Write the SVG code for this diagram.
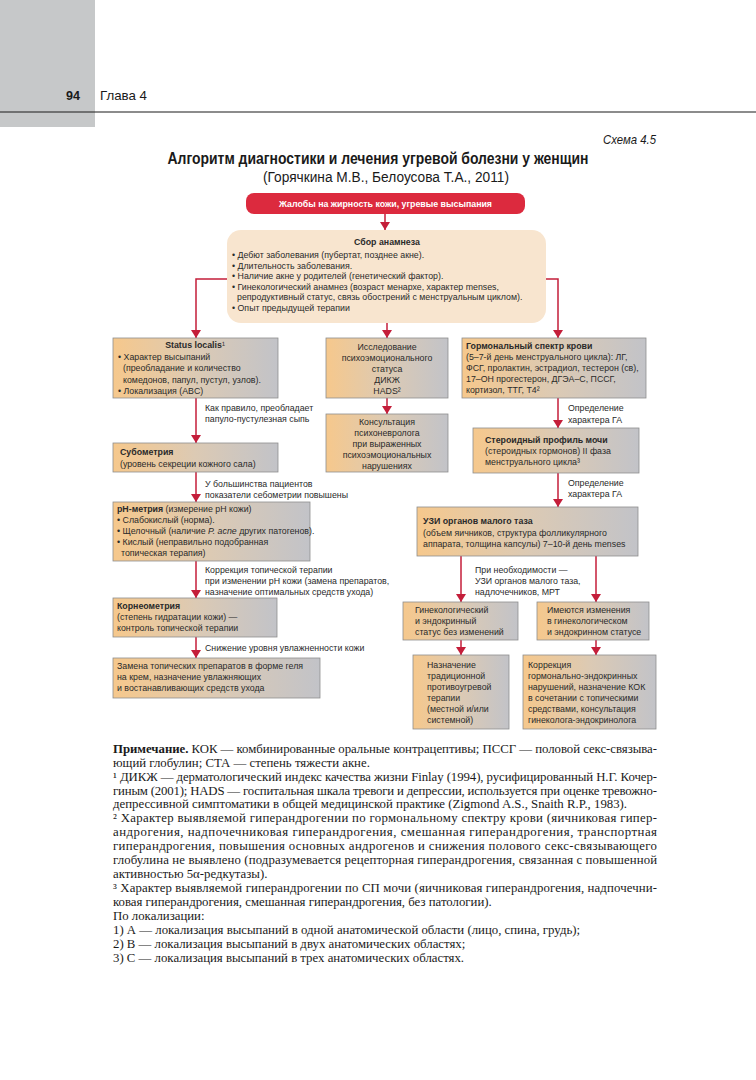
<svg xmlns="http://www.w3.org/2000/svg" width="756" height="1080" viewBox="0 0 756 1080">
<style>
.t{font-family:"Liberation Sans",Arial,sans-serif;font-size:8.8px;fill:#2a2a2a}
.b{font-weight:bold}
.c{text-anchor:middle}
.w{fill:#ffffff;font-weight:bold}
.box{fill:url(#g);stroke:#8e8e8e;stroke-width:0.8}
.cn{fill:none;stroke:#c41e3a;stroke-width:1.5;marker-end:url(#ar)}
.n{font-family:"Liberation Serif","Times New Roman",serif;font-size:12.8px;fill:#1a1a1a}
.h{font-family:"Liberation Sans",Arial,sans-serif;fill:#1a1a1a}
</style>
<defs>
<linearGradient id="g" x1="0" y1="0" x2="1" y2="0">
<stop offset="0" stop-color="#f6c88c"/>
<stop offset="0.5" stop-color="#dccab4"/>
<stop offset="1" stop-color="#c2c3c8"/>
</linearGradient>
<marker id="ar" markerUnits="userSpaceOnUse" markerWidth="9" markerHeight="10" refX="8" refY="5" orient="auto">
<path d="M0,0 L8,5 L0,10 z" fill="#c41e3a"/>
</marker>
</defs>
<rect width="756" height="1080" fill="#ffffff"/>
<g id="header">
<rect x="0" y="0" width="95" height="127" fill="#c6c8c9"/>
<line x1="0" y1="112" x2="756" y2="112" stroke="#1a1a1a" stroke-width="1.2"/>
<text class="h b" x="80" y="100" font-size="13.5" text-anchor="end" textLength="14" lengthAdjust="spacingAndGlyphs">94</text>
<text class="h" x="100" y="100" font-size="13" textLength="47" lengthAdjust="spacingAndGlyphs">Глава 4</text>
<text class="h" x="656" y="144" font-size="13.5" font-style="italic" text-anchor="end" textLength="53" lengthAdjust="spacingAndGlyphs">Схема 4.5</text>
<text class="h b" x="378" y="164" font-size="16" text-anchor="middle" textLength="421" lengthAdjust="spacingAndGlyphs">Алгоритм диагностики и лечения угревой болезни у женщин</text>
<text class="h" x="386" y="182" font-size="15.5" text-anchor="middle" textLength="246" lengthAdjust="spacingAndGlyphs">(Горячкина М.В., Белоусова Т.А., 2011)</text>
</g>
<g id="connectors">
<line class="cn" x1="385" y1="214" x2="385" y2="230"/>
<polyline class="cn" points="227,279 196,279 196,338"/>
<line class="cn" x1="387" y1="323" x2="387" y2="338"/>
<polyline class="cn" points="546,279 558,279 558,338"/>
<line class="cn" x1="196" y1="398" x2="196" y2="443"/>
<line class="cn" x1="387" y1="398" x2="387" y2="414"/>
<line class="cn" x1="558" y1="398" x2="558" y2="428"/>
<line class="cn" x1="196" y1="472" x2="196" y2="502"/>
<line class="cn" x1="558" y1="473" x2="558" y2="507"/>
<line class="cn" x1="196" y1="561" x2="196" y2="598"/>
<line class="cn" x1="461" y1="556" x2="461" y2="602"/>
<line class="cn" x1="596" y1="556" x2="596" y2="602"/>
<line class="cn" x1="196" y1="637" x2="196" y2="658"/>
<line class="cn" x1="461" y1="640" x2="461" y2="655"/>
<line class="cn" x1="596" y1="640" x2="596" y2="655"/>
</g>
<g id="labels">
<text class="t" x="205" y="411">Как правило, преобладает</text>
<text class="t" x="205" y="422">папуло-пустулезная сыпь</text>
<text class="t" x="205" y="487">У большинства пациентов</text>
<text class="t" x="205" y="498">показатели себометрии повышены</text>
<text class="t" x="205" y="573">Коррекция топической терапии</text>
<text class="t" x="205" y="584">при изменении pH кожи (замена препаратов,</text>
<text class="t" x="205" y="595">назначение оптимальных средств ухода)</text>
<text class="t" x="205" y="651">Снижение уровня увлажненности кожи</text>
<text class="t" x="568" y="411">Определение</text>
<text class="t" x="568" y="423">характера ГА</text>
<text class="t" x="568" y="486">Определение</text>
<text class="t" x="568" y="497">характера ГА</text>
<text class="t" x="475" y="573">При необходимости —</text>
<text class="t" x="475" y="584">УЗИ органов малого таза,</text>
<text class="t" x="475" y="595">надлочечников, МРТ</text>
</g>
<g id="n-complaints">
<rect x="246" y="193" width="279" height="21" rx="8" fill="#dc2a3e"/>
<text class="t w c" x="385.5" y="207">Жалобы на жирность кожи, угревые высыпания</text>
</g>
<g id="n-anamnesis">
<rect x="227" y="230" width="319" height="93" rx="14" fill="#f8e5cf"/>
<text class="t b c" x="387" y="245">Сбор анамнеза</text>
<text class="t" x="232" y="258">• Дебют заболевания (пубертат, позднее акне).</text>
<text class="t" x="232" y="268.5">• Длительность заболевания.</text>
<text class="t" x="232" y="279">• Наличие акне у родителей (генетический фактор).</text>
<text class="t" x="232" y="289.5">• Гинекологический анамнез (возраст менархе, характер menses,</text>
<text class="t" x="237" y="300">репродуктивный статус, связь обострений с менструальным циклом).</text>
<text class="t" x="232" y="310.5">• Опыт предыдущей терапии</text>
</g>
<g id="n-status">
<rect class="box" x="113" y="338" width="165" height="60"/>
<text class="t b c" x="195" y="348">Status localis<tspan font-weight="normal">¹</tspan></text>
<text class="t" x="118" y="359.5">• Характер высыпаний</text>
<text class="t" x="123" y="371">(преобладание и количество</text>
<text class="t" x="123" y="382.5">комедонов, папул, пустул, узлов).</text>
<text class="t" x="118" y="394">• Локализация (ABC)</text>
</g>
<g id="n-psycho">
<rect class="box" x="326" y="338" width="122" height="60"/>
<text class="t c" x="387" y="350">Исследование</text>
<text class="t c" x="387" y="361">психоэмоционального</text>
<text class="t c" x="387" y="372">статуса</text>
<text class="t c" x="387" y="383">ДИКЖ</text>
<text class="t c" x="387" y="394">HADS²</text>
</g>
<g id="n-consult">
<rect class="box" x="326" y="414" width="122" height="58"/>
<text class="t c" x="387" y="425">Консультация</text>
<text class="t c" x="387" y="436">психоневролога</text>
<text class="t c" x="387" y="447">при выраженных</text>
<text class="t c" x="387" y="458">психоэмоциональных</text>
<text class="t c" x="387" y="469">нарушениях</text>
</g>
<g id="n-hormone">
<rect class="box" x="462" y="338" width="184" height="60"/>
<text class="t b" x="466" y="349">Гормональный спектр крови</text>
<text class="t" x="466" y="360">(5–7-й день менструального цикла): ЛГ,</text>
<text class="t" x="466" y="371">ФСГ, пролактин, эстрадиол, тестерон (св),</text>
<text class="t" x="466" y="382">17–ОН прогестерон, ДГЭА–С, ПССГ,</text>
<text class="t" x="466" y="393">кортизол, ТТГ, Т4²</text>
</g>
<g id="n-steroid">
<rect class="box" x="473" y="428" width="166" height="45"/>
<text class="t b" x="485" y="443">Стероидный профиль мочи</text>
<text class="t" x="485" y="454">(стероидных гормонов) II фаза</text>
<text class="t" x="485" y="465">менструального цикла³</text>
</g>
<g id="n-subometry">
<rect class="box" x="113" y="443" width="165" height="29"/>
<text class="t b" x="120" y="455">Субометрия</text>
<text class="t" x="120" y="467">(уровень секреции кожного сала)</text>
</g>
<g id="n-ph">
<rect class="box" x="113" y="502" width="197" height="59"/>
<text class="t" x="117" y="512"><tspan font-weight="bold">pH-метрия</tspan> (измерение pH кожи)</text>
<text class="t" x="117" y="523">• Слабокислый (норма).</text>
<text class="t" x="117" y="534">• Щелочный (наличие <tspan font-style="italic">P. acne</tspan> других патогенов).</text>
<text class="t" x="117" y="545">• Кислый (неправильно подобранная</text>
<text class="t" x="121" y="556">топическая терапия)</text>
</g>
<g id="n-uzi">
<rect class="box" x="417" y="507" width="221" height="49"/>
<text class="t b" x="423" y="524">УЗИ органов малого таза</text>
<text class="t" x="423" y="536">(объем яичников, структура фолликулярного</text>
<text class="t" x="423" y="547">аппарата, толщина капсулы) 7–10-й день menses</text>
</g>
<g id="n-corneo">
<rect class="box" x="113" y="598" width="164" height="39"/>
<text class="t b" x="117" y="609">Корнеометрия</text>
<text class="t" x="117" y="620">(степень гидратации кожи) —</text>
<text class="t" x="117" y="631">контроль топической терапии</text>
</g>
<g id="n-gyn-ok">
<rect class="box" x="403" y="602" width="115" height="38"/>
<text class="t" x="415" y="613">Гинекологический</text>
<text class="t" x="415" y="624">и эндокринный</text>
<text class="t" x="415" y="635">статус без изменений</text>
</g>
<g id="n-gyn-changes">
<rect class="box" x="537" y="602" width="112" height="38"/>
<text class="t" x="547" y="613">Имеются изменения</text>
<text class="t" x="547" y="624">в гинекологическом</text>
<text class="t" x="547" y="635">и эндокринном статусе</text>
</g>
<g id="n-replace">
<rect class="box" x="113" y="658" width="207" height="40"/>
<text class="t" x="117" y="669">Замена топических препаратов в форме геля</text>
<text class="t" x="117" y="680">на крем, назначение увлажняющих</text>
<text class="t" x="117" y="691">и востанавливающих средств ухода</text>
</g>
<g id="n-traditional">
<rect class="box" x="413" y="655" width="96" height="74"/>
<text class="t" x="427" y="668">Назначение</text>
<text class="t" x="427" y="679">традиционной</text>
<text class="t" x="427" y="690">противоугревой</text>
<text class="t" x="427" y="701">терапии</text>
<text class="t" x="427" y="712">(местной и/или</text>
<text class="t" x="427" y="723">системной)</text>
</g>
<g id="n-correction">
<rect class="box" x="523" y="655" width="133" height="74"/>
<text class="t" x="528" y="668">Коррекция</text>
<text class="t" x="528" y="679">гормонально-эндокринных</text>
<text class="t" x="528" y="690">нарушений, назначение КОК</text>
<text class="t" x="528" y="701">в сочетании с топическими</text>
<text class="t" x="528" y="712">средствами, консультация</text>
<text class="t" x="528" y="723">гинеколога-эндокринолога</text>
</g>
<g id="notes">
<text class="n" x="113" y="753" textLength="544" lengthAdjust="spacing"><tspan font-weight="bold">Примечание.</tspan> КОК — комбинированные оральные контрацептивы; ПССГ — половой секс-связыва-</text>
<text class="n" x="113" y="767">ющий глобулин; СТА — степень тяжести акне.</text>
<text class="n" x="113" y="781" textLength="544" lengthAdjust="spacing">¹ ДИКЖ — дерматологический индекс качества жизни Finlay (1994), русифицированный Н.Г. Кочер-</text>
<text class="n" x="113" y="795" textLength="544" lengthAdjust="spacing">гиным (2001); HADS — госпитальная шкала тревоги и депрессии, используется при оценке тревожно-</text>
<text class="n" x="113" y="808">депрессивной симптоматики в общей медицинской практике (Zigmond A.S., Snaith R.P., 1983).</text>
<text class="n" x="113" y="822" textLength="544" lengthAdjust="spacing">² Характер выявляемой гиперандрогении по гормональному спектру крови (яичниковая гипер-</text>
<text class="n" x="113" y="836" textLength="544" lengthAdjust="spacing">андрогения, надпочечниковая гиперандрогения, смешанная гиперандрогения, транспортная</text>
<text class="n" x="113" y="850" textLength="544" lengthAdjust="spacing">гиперандрогения, повышения основных андрогенов и снижения полового секс-связывающего</text>
<text class="n" x="113" y="864" textLength="544" lengthAdjust="spacing">глобулина не выявлено (подразумевается рецепторная гиперандрогения, связанная с повышенной</text>
<text class="n" x="113" y="878">активностью 5α-редкутазы).</text>
<text class="n" x="113" y="892" textLength="544" lengthAdjust="spacing">³ Характер выявляемой гиперандрогении по СП мочи (яичниковая гиперандрогения, надпочечни-</text>
<text class="n" x="113" y="906">ковая гиперандрогения, смешанная гиперандрогения, без патологии).</text>
<text class="n" x="113" y="920">По локализации:</text>
<text class="n" x="113" y="934">1) А — локализация высыпаний в одной анатомической области (лицо, спина, грудь);</text>
<text class="n" x="113" y="948">2) В — локализация высыпаний в двух анатомических областях;</text>
<text class="n" x="113" y="962">3) С — локализация высыпаний в трех анатомических областях.</text>
</g>
</svg>
